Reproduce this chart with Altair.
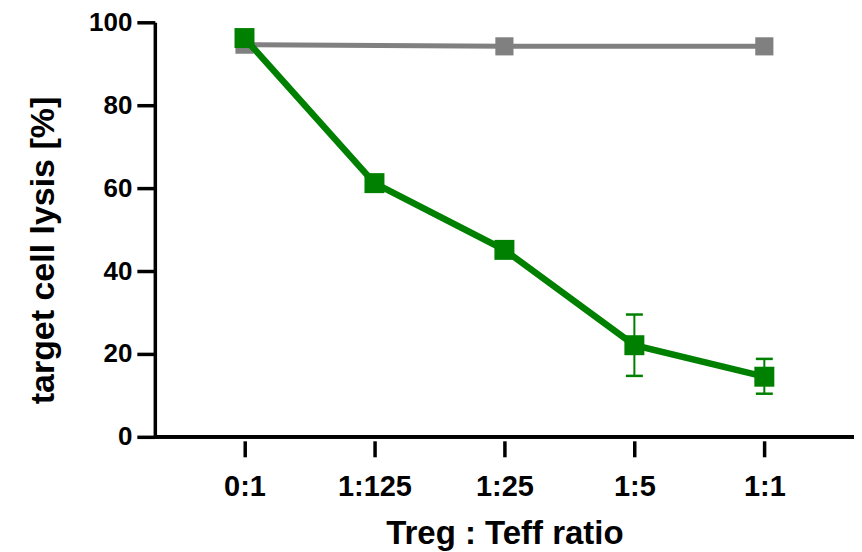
import altair as alt
import pandas as pd

ratios = ["0:1", "1:125", "1:25", "1:5", "1:1"]
green_vals = [96.2, 61.2, 45.1, 22.1, 14.5]
err_ratios = ["1:5", "1:1"]
err_lo = [14.7, 10.4]
err_hi = [29.5, 18.8]
gray_ratios = ["0:1", "1:25", "1:1"]
gray_vals = [94.6, 94.2, 94.2]

green_df = pd.DataFrame({"ratio": ratios, "lysis": green_vals})
gray_df = pd.DataFrame({"ratio": gray_ratios, "lysis": gray_vals})
err_df = pd.DataFrame({"ratio": err_ratios, "lo": err_lo, "hi": err_hi})

FONT = "Liberation Sans"
GREEN = "#008000"
GRAY = "#808080"
W, H = 700, 415

xscale = alt.Scale(domain=ratios, type="point", padding=0.69)
yscale = alt.Scale(domain=[0, 100], nice=False, zero=True)

xaxis = alt.Axis(title="Treg : Teff ratio", domain=False, ticks=True, tickSize=16,
                 tickWidth=3.5, tickColor="black", offset=4, labelAngle=0,
                 labelPadding=16, titlePadding=16,
                 labelFont=FONT, labelFontWeight="bold", labelFontSize=29, labelColor="black",
                 titleFont=FONT, titleFontWeight="bold", titleFontSize=33, titleColor="black")
yaxis = alt.Axis(title="target cell lysis [%]", values=[0, 20, 40, 60, 80, 100],
                 grid=False, domainWidth=3.5, domainColor="black", tickWidth=3.5,
                 tickSize=18, tickColor="black", labelPadding=5, titlePadding=28,
                 titleY=228,
                 labelFont=FONT, labelFontWeight="bold", labelFontSize=26, labelColor="black",
                 titleFont=FONT, titleFontWeight="bold", titleFontSize=34, titleColor="black")

x = alt.X("ratio:N", scale=xscale, axis=xaxis, sort=ratios)
y = alt.Y("lysis:Q", scale=yscale, axis=yaxis)

gray_line = alt.Chart(gray_df).mark_line(color=GRAY, strokeWidth=5).encode(x=x, y=y)
gray_pts = alt.Chart(gray_df).mark_square(color=GRAY, size=330, opacity=1).encode(x=x, y=y)
green_line = alt.Chart(green_df).mark_line(color=GREEN, strokeWidth=6.5).encode(x=x, y=y)
err_rule = alt.Chart(err_df).mark_rule(color=GREEN, strokeWidth=2).encode(
    x=alt.X("ratio:N", scale=xscale, sort=ratios),
    y=alt.Y("lo:Q", scale=yscale), y2="hi:Q")
cap_lo = alt.Chart(err_df).mark_tick(color=GREEN, size=17, thickness=2.5, opacity=1).encode(
    x=alt.X("ratio:N", scale=xscale, sort=ratios), y=alt.Y("lo:Q", scale=yscale))
cap_hi = alt.Chart(err_df).mark_tick(color=GREEN, size=17, thickness=2.5, opacity=1).encode(
    x=alt.X("ratio:N", scale=xscale, sort=ratios), y=alt.Y("hi:Q", scale=yscale))
green_pts = alt.Chart(green_df).mark_square(color=GREEN, size=400, opacity=1).encode(x=x, y=y)

xdomain = alt.Chart(green_df).mark_rule(color="black", strokeWidth=3.5).encode(
    x=alt.value(0), x2=alt.value(W), y=alt.value(H))

chart = alt.layer(
    xdomain, gray_line, gray_pts, green_line, err_rule, cap_lo, cap_hi, green_pts
).properties(
    width=W, height=H,
    autosize="none",
    padding={"left": 147, "top": 14, "right": 0, "bottom": 115},
).configure_view(stroke=None)

chart.save("out.html", embed_options={"renderer": "svg", "actions": False})
